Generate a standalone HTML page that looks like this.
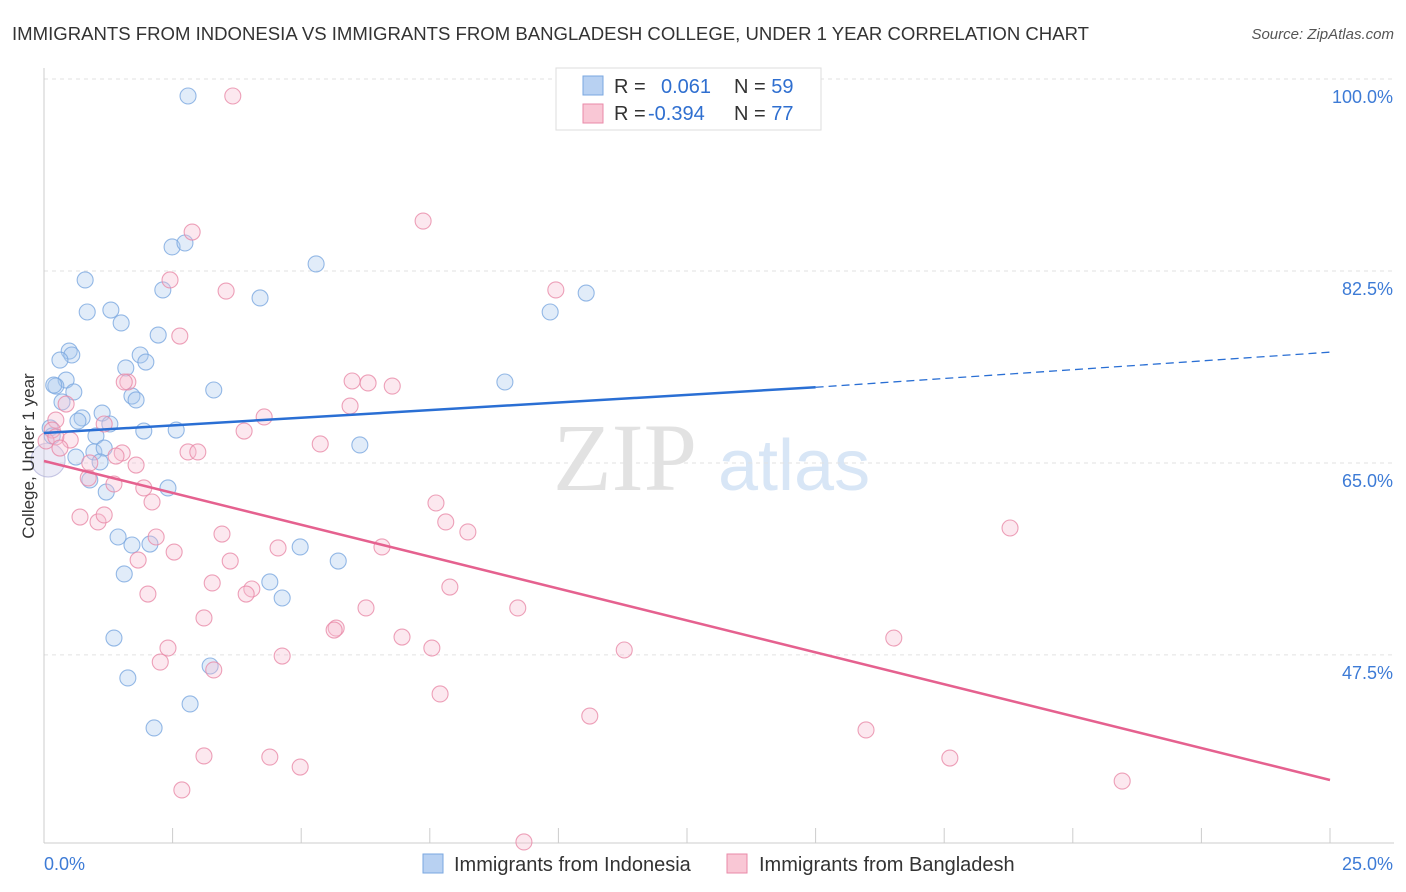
<!DOCTYPE html>
<html><head><meta charset="utf-8">
<style>
body{margin:0;background:#fff;font-family:"Liberation Sans",sans-serif;}
svg{display:block}
</style></head>
<body>
<svg id="chart" width="1406" height="892" xmlns="http://www.w3.org/2000/svg">
<text x="12" y="40" font-size="18.6" fill="#333" textLength="1077" lengthAdjust="spacingAndGlyphs">IMMIGRANTS FROM INDONESIA VS IMMIGRANTS FROM BANGLADESH COLLEGE, UNDER 1 YEAR CORRELATION CHART</text>
<text x="1394" y="39" font-size="15" fill="#555" font-style="italic" text-anchor="end">Source: ZipAtlas.com</text>
<g>
<text x="553" y="490" font-size="96" fill="#e2e2e2" font-family="Liberation Serif,serif">ZIP</text>
<text x="718" y="490" font-size="72" fill="#d8e6f6">atlas</text>
</g>
<g id="grid"></g>
<g id="axes"></g>
<g id="marks"></g>
<text transform="translate(34,456) rotate(-90)" font-size="17" fill="#333" text-anchor="middle">College, Under 1 year</text>
<g>
<rect x="556" y="68" width="265" height="62" fill="#fff" stroke="#ddd"/>
<rect x="583" y="76" width="20" height="19" fill="#b8d1f2" stroke="#7aa7e0"/>
<rect x="583" y="104" width="20" height="19" fill="#f9c7d5" stroke="#e98aa8"/>
<text x="614" y="93" font-size="20" fill="#333">R = <tspan fill="#2f6fd0" x="661">0.061</tspan><tspan x="734">N = </tspan><tspan fill="#2f6fd0">59</tspan></text>
<text x="614" y="120" font-size="20" fill="#333">R = <tspan fill="#2f6fd0" x="648">-0.394</tspan><tspan x="734">N = </tspan><tspan fill="#2f6fd0">77</tspan></text>
</g>
<g>
<rect x="423" y="854" width="20" height="19" fill="#b8d1f2" stroke="#7aa7e0"/>
<text x="454" y="871" font-size="20" fill="#333">Immigrants from Indonesia</text>
<rect x="727" y="854" width="20" height="19" fill="#f9c7d5" stroke="#e98aa8"/>
<text x="759" y="871" font-size="20" fill="#333">Immigrants from Bangladesh</text>
</g>
</svg>
<script>
const xTicks=[0,2.5,5,7.5,10,12.5,15,17.5,20,22.5,25];
const yTicks=[100,82.5,65,47.5];
const yTickLabels=["100.0%","82.5%","65.0%","47.5%"];
const blueX=[2.80,2.49,2.74,5.29,0.80,2.31,4.20,0.84,1.30,1.50,2.22,9.84,10.54,0.49,0.54,0.31,1.87,1.98,1.59,0.43,0.23,0.58,3.30,8.96,1.71,1.79,0.35,0.74,1.13,1.28,0.66,1.01,1.94,2.57,0.12,0.16,6.14,0.97,1.17,1.09,0.62,0.89,1.21,2.41,1.44,1.71,2.06,4.98,5.72,1.56,4.39,4.63,1.36,3.23,1.63,2.84,2.14,0.19];
const blueY=[98.45,84.69,85.05,83.14,81.68,80.77,80.04,78.76,78.94,77.76,76.66,78.76,80.49,75.20,74.84,74.38,74.84,74.20,73.66,72.56,72.01,71.47,71.65,72.38,71.10,70.74,70.56,69.10,69.55,68.55,68.82,67.46,67.91,68.00,68.19,67.46,66.64,66.00,66.36,65.09,65.54,63.45,62.35,62.72,58.25,57.52,57.61,57.34,56.06,54.88,54.15,52.69,49.04,46.49,45.40,43.03,40.84,72.1];
const pinkX=[3.67,7.37,2.88,2.45,3.54,9.95,2.64,1.63,5.99,6.30,6.77,0.43,5.95,4.28,0.23,0.16,0.04,0.51,1.17,3.89,5.37,2.80,2.99,1.52,1.40,1.79,0.89,0.86,1.36,1.94,2.10,7.62,0.70,1.05,1.17,7.81,8.24,2.18,3.46,6.57,4.55,1.83,2.53,3.62,3.27,4.04,7.89,3.93,2.02,9.21,6.26,3.11,5.68,5.64,6.96,16.52,18.78,2.41,7.54,11.28,4.63,2.26,3.30,7.70,10.61,15.98,3.11,4.39,4.98,17.61,20.96,2.68,9.33,1.56,0.23,0.31];
const pinkY=[98.45,87.05,86.05,81.68,80.67,80.77,76.57,72.38,72.47,72.29,72.01,70.37,70.19,69.19,68.91,68.00,67.00,67.09,68.55,67.91,66.73,66.00,66.00,65.91,65.63,64.81,65.00,63.63,63.08,62.72,61.44,61.35,60.07,59.62,60.26,59.62,58.71,58.25,58.52,57.34,57.25,56.15,56.88,56.06,54.06,53.51,53.69,53.05,53.05,51.78,51.78,50.87,49.95,49.77,49.13,49.04,59.07,48.13,48.13,47.95,47.40,46.85,46.13,43.94,41.93,40.66,38.29,38.19,37.28,38.10,36.00,35.19,30.45,72.38,67.37,66.36];
const bigX=[0.08], bigY=[65.27];
const blueTrend=[[0,67.73],[15,71.9],[25,75.1]];
const pinkTrend=[[0,65.18],[25,36.1]];

const X=v=>44+v/25*1286;
const Y=v=>79+(100-v)*10.97;
const NS="http://www.w3.org/2000/svg";
function mk(tag,attrs,parent){const e=document.createElementNS(NS,tag);for(const k in attrs)e.setAttribute(k,attrs[k]);parent.appendChild(e);return e;}
const grid=document.getElementById('grid'),axes=document.getElementById('axes'),marks=document.getElementById('marks');
yTicks.forEach((t,i)=>{
  const l=mk('line',{x1:44,x2:1394,y1:Y(t),y2:Y(t),stroke:'#e2e2e2','stroke-dasharray':'4,4'},grid);
  
  
  const tx=mk('text',{x:1393,y:Y(t)+24,'font-size':18,fill:'#3d7bd6','text-anchor':'end'},axes);
  tx.textContent=yTickLabels[i];
  
  
});
const ax=mk('line',{x1:44,x2:1394,y1:843,y2:843,stroke:'#ccc'},axes);


const ay=mk('line',{x1:44,x2:44,y1:68,y2:843,stroke:'#ccc'},axes);


xTicks.forEach(t=>{
  const l=mk('line',{x1:X(t),x2:X(t),y1:828,y2:843,stroke:'#ccc'},axes);
  
  
});
const xl0=mk('text',{x:44,y:870,'font-size':18,fill:'#3d7bd6'},axes);xl0.textContent='0.0%';


const xl1=mk('text',{x:1393,y:870,'font-size':18,fill:'#3d7bd6','text-anchor':'end'},axes);xl1.textContent='25.0%';



function dot(x,y,r,fill,stroke,name){
  const c=mk('circle',{cx:X(x),cy:Y(y),r:r,fill:fill,'fill-opacity':0.35,stroke:stroke,'stroke-opacity':0.8,'stroke-width':1.1},marks);
  
  
}
bigX.forEach((x,i)=>dot(x,bigY[i],17,'#c6c6e8','#b7b7dc','large-point'));
blueX.forEach((x,i)=>dot(x,blueY[i],8,'#a9c8ef','#7aa7e0','indonesia-point'));
pinkX.forEach((x,i)=>dot(x,pinkY[i],8,'#f7bdd0','#e98aa8','bangladesh-point'));

const b1=mk('line',{x1:X(blueTrend[0][0]),y1:Y(blueTrend[0][1]),x2:X(blueTrend[1][0]),y2:Y(blueTrend[1][1]),stroke:'#2a6fd4','stroke-width':2.5},marks);


const b2=mk('line',{x1:X(blueTrend[1][0]),y1:Y(blueTrend[1][1]),x2:X(blueTrend[2][0]),y2:Y(blueTrend[2][1]),stroke:'#2a6fd4','stroke-width':1.3,'stroke-dasharray':'8,5'},marks);


const p1=mk('line',{x1:X(pinkTrend[0][0]),y1:Y(pinkTrend[0][1]),x2:X(pinkTrend[1][0]),y2:Y(pinkTrend[1][1]),stroke:'#e5618f','stroke-width':2.5},marks);


</script>
</body></html>
